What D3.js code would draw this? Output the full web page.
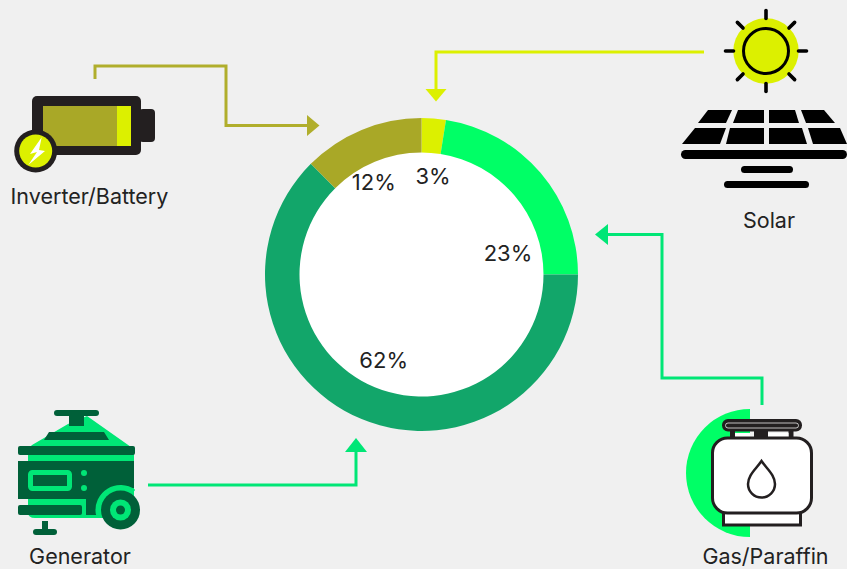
<!DOCTYPE html>
<html><head><meta charset="utf-8">
<script src="https://cdn.jsdelivr.net/npm/d3@7/dist/d3.min.js"></script>
<style>html,body{margin:0;padding:0;background:#f0f0f0}svg{display:block}text{font-family:Inter,"Noto Sans",sans-serif;fill:#222}</style>
</head><body><svg id="c" width="847" height="569"></svg>
<script>
const categories = ["Solar","Gas/Paraffin","Generator","Inverter/Battery"];
const shares = [2.5,22.5,62.5,12.5];
const percentLabels = ["3%","23%","62%","12%"];
const colors = ["#dcf000","#00ff66","#12a66a","#a9a827"];
const lineColors = ["#dcf000","#00e676","#00e676","#b0ae2c"];

const svg = d3.select("#c");
const W=847, H=569;
svg.append("rect").attr("width",W).attr("height",H).attr("fill","#f0f0f0");

function rect(x,y,w,h,rx,fill,stroke,sw){
  return svg.append("rect").attr("x",x).attr("y",y).attr("width",w).attr("height",h).attr("rx",rx)
    .attr("fill",fill).attr("stroke",stroke||"none").attr("stroke-width",sw||0);
}
function circ(x,y,rad,fill,stroke,sw){
  return svg.append("circle").attr("cx",x).attr("cy",y).attr("r",rad)
    .attr("fill",fill).attr("stroke",stroke||"none").attr("stroke-width",sw||0);
}
function path(d,fill,stroke,sw){
  return svg.append("path").attr("d",d).attr("fill",fill).attr("stroke",stroke||"none").attr("stroke-width",sw||0);
}

const cx=421.5, cy=274.5, R=156.5, r=122;
const pie=d3.pie().sort(null).value(d=>d)(shares);
const arc=d3.arc().innerRadius(r).outerRadius(R);
const g=svg.append("g").attr("transform",`translate(${cx},${cy})`);
g.append("circle").attr("r",r+1).attr("fill","#fff");
g.selectAll("path").data(pie).join("path").attr("d",arc).attr("fill",(d,i)=>colors[i]);

const labelPos=[[433,184],[508,261],[383.7,368],[373.8,190]];
svg.selectAll("text.pct").data(percentLabels).join("text").attr("class","pct")
  .attr("x",(d,i)=>labelPos[i][0]).attr("y",(d,i)=>labelPos[i][1]).attr("text-anchor","middle")
  .attr("font-size",22).text(d=>d);

function connector(pts,head,col){
  path(d3.line()(pts),"none",col,3);
  path(d3.line()(head)+"Z",col);
}
connector([[95,79],[95,66],[226,66],[226,125.5],[308,125.5]],[[307,115],[319.5,125.5],[307,136]],lineColors[3]);
connector([[704,52],[436,52],[436,90]],[[425.5,89],[446.5,89],[436,101.5]],lineColors[0]);
connector([[148,485],[356,485],[356,450]],[[345,452],[367,452],[356,438]],lineColors[2]);
connector([[762,405],[762,378],[662,378],[662,234.5],[607,234.5]],[[608,224],[608,245],[595,234.5]],lineColors[1]);

const labelAt=[[769,228],[765.5,563.5],[80,563.5],[89.5,204]];
categories.forEach((c,i)=>svg.append("text").attr("x",labelAt[i][0]).attr("y",labelAt[i][1])
  .attr("text-anchor","middle").attr("font-size",21.5).text(c));

// Battery icon
const dark="#231f20";
rect(32,96,109,59,5,dark);
rect(139,109,16,33,4,dark);
rect(43,106,74,40,0,colors[3]);
rect(117,106,14,40,0,colors[0]);
circ(35.7,151,21.5,dark);
circ(35.7,151,16.5,colors[0]);
path("M41.7 137.3L30 154L37 152L28.3 165L45 151L39 150Z","#fff");

// Sun icon
circ(766,51,32.7,colors[0]);
circ(766,51,22.5,"none","#000",3);
d3.range(8).forEach(i=>{
  const a=i*Math.PI/4, r0=32.5, r1=40.5;
  svg.append("line").attr("x1",766+r0*Math.cos(a)).attr("y1",51+r0*Math.sin(a))
    .attr("x2",766+r1*Math.cos(a)).attr("y2",51+r1*Math.sin(a))
    .attr("stroke","#000").attr("stroke-width",3.6).attr("stroke-linecap","round");
});

// Solar panel
["M698 123L708 110L732 110L726 123Z","M738 110L764 110L764 123L733 123Z","M769 110L795 110L799 123L769 123Z","M801 110L824 110L835 123L806 123Z",
 "M682 144L695 128L726 128L720 144Z","M730 128L764 128L764 144L726 144Z","M769 128L802 128L807 144L769 144Z","M808 128L840 128L847 144L813 144Z"]
 .forEach(d=>path(d,"#000"));
rect(681,150,166,9,4.5,"#000");
rect(741,166,52,7,3.5,"#000");
rect(724,181,85,7,3.5,"#000");

// Generator icon
const gd="#006039", gl="#00e676";
path("M68 424L87 416L131 447L134 449L134 512Q134 518 127 518L35 518Q28 518 28 512L28 449L32 445Z",gl);
rect(54,410,45,6,3,gd);
rect(69,414,15,12,0,gd);
path("M49 432L104 432L109 440L44 440Z",gd);
rect(18,446,117,9,2,gd);
path("M18 461L134 461L134 488L112 488Q97 491 96 515L86 515L86 499L18 499Z",gd);
rect(18,505,64,10,2,gd);
rect(30.5,472.5,39,16,2,"none",gl,5);
circ(84,473,3,gl);
circ(84,488,3,gl);
path(d3.arc()({innerRadius:0,outerRadius:25,startAngle:-Math.PI*0.55,endAngle:Math.PI*0.2}),gl).attr("transform","translate(120.5,510)");
circ(120.5,510,19.5,gd);
circ(120.5,510,10.5,gl);
circ(120.5,510,4.5,gd);
rect(42,521,6,11,0,gd);
rect(33,529,24,6,3,gd);

// Gas icon
path(d3.arc()({innerRadius:0,outerRadius:64,startAngle:Math.PI,endAngle:2*Math.PI}),colors[1]).attr("transform","translate(750,473)");
rect(723.5,512,77,13,0,"#fff",dark,3);
rect(730,430,5,9,0,dark);
rect(754,430,14,9,0,dark);
rect(788.5,430,5,9,0,dark);
rect(735,433,15,5,0,"#fff");
rect(768,433,20.5,5,0,"#fff");
rect(722,419,80,12.5,6,dark);
rect(725.5,423,73,5,2.5,dark,"#e8e8e8",0.8);
rect(712.5,438,99,75,15,"#fff",dark,3);
path("M761.5 461C756 469 748 475 748 484A13.5 13.5 0 0 0 775 484C775 475 767 469 761.5 461Z","#fff",dark,2.5);
</script></body></html>
